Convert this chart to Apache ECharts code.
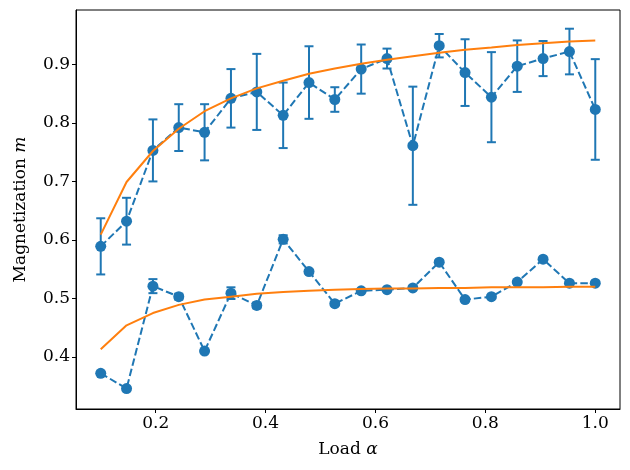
<!DOCTYPE html>
<html>
<head>
<meta charset="utf-8">
<script src="https://cdn.jsdelivr.net/npm/echarts@6/dist/echarts.min.js"></script>
<style>
  html, body { margin: 0; padding: 0; background: #fff; }
  #chart { width: 630px; height: 470px; }
</style>
</head>
<body>
<div id="chart"></div>
<script>
// Load values (x positions)
const loads = [0.1, 0.147, 0.195, 0.242, 0.289, 0.337, 0.384, 0.432, 0.479, 0.526,
               0.574, 0.621, 0.668, 0.716, 0.763, 0.811, 0.858, 0.905, 0.953, 1.0];

// Upper branch: measured magnetization and its error
const upperMean = [0.589, 0.632, 0.753, 0.792, 0.784, 0.842, 0.853, 0.813, 0.869, 0.840,
                   0.892, 0.910, 0.761, 0.932, 0.886, 0.844, 0.897, 0.910, 0.922, 0.823];
const upperErr = [0.048, 0.040, 0.053, 0.040, 0.048, 0.050, 0.065, 0.056, 0.062, 0.021,
                  0.042, 0.017, 0.101, 0.020, 0.057, 0.077, 0.044, 0.030, 0.039, 0.086];
const upperTheory = [0.609, 0.699, 0.752, 0.790, 0.820, 0.842, 0.859, 0.872, 0.884, 0.893,
                     0.901, 0.908, 0.914, 0.920, 0.925, 0.929, 0.933, 0.936, 0.939, 0.941];

// Lower branch
const lowerMean = [0.372, 0.346, 0.521, 0.503, 0.410, 0.509, 0.488, 0.601, 0.546, 0.491,
                   0.513, 0.515, 0.518, 0.562, 0.498, 0.503, 0.528, 0.567, 0.526, 0.526];
const lowerErr = [0.003, 0.003, 0.012, 0.005, 0.002, 0.010, 0.005, 0.007, 0.003, 0.003,
                  0.002, 0.002, 0.002, 0.003, 0.002, 0.002, 0.002, 0.002, 0.002, 0.002];
const lowerTheory = [0.413, 0.454, 0.475, 0.489, 0.498, 0.503, 0.508, 0.511, 0.513, 0.515,
                     0.516, 0.517, 0.517, 0.518, 0.518, 0.519, 0.519, 0.519, 0.520, 0.520];

const xTicks = [0.2, 0.4, 0.6, 0.8, 1.0];
const yTicks = [0.4, 0.5, 0.6, 0.7, 0.8, 0.9];

const BLUE = '#1f77b4';
const ORANGE = '#ff7f0e';
const FONT = 'DejaVu Serif';
const FS = 17;

const pairs = (ys) => loads.map((x, i) => [x, ys[i]]);
const triples = (ys, es) => loads.map((x, i) => [x, ys[i], es[i]]);

// Error bars: vertical line plus caps
function renderErrorBar(params, api) {
    const x = api.value(0);
    const y = api.value(1);
    const e = api.value(2);
    const top = api.coord([x, y + e]);
    const bot = api.coord([x, y - e]);
    const cap = 4.5;
    const style = { stroke: BLUE, lineWidth: 2 };
    return {
        type: 'group',
        children: [
            { type: 'line', shape: { x1: top[0], y1: top[1], x2: bot[0], y2: bot[1] }, style },
            { type: 'line', shape: { x1: top[0] - cap, y1: top[1], x2: top[0] + cap, y2: top[1] }, style },
            { type: 'line', shape: { x1: bot[0] - cap, y1: bot[1], x2: bot[0] + cap, y2: bot[1] }, style }
        ]
    };
}

const fmt = (v) => v.toFixed(1);
const nameRich = {
    n: { fontFamily: FONT, fontSize: FS, color: '#000' },
    i: { fontFamily: FONT, fontSize: FS, fontStyle: 'italic', color: '#000' }
};

const chart = echarts.init(document.getElementById('chart'));

const option = {
    animation: false,
    backgroundColor: '#fff',
    textStyle: { fontFamily: FONT },
    grid: {
        left: 76, right: 10, top: 10, bottom: 61,
        show: true, borderColor: '#000', borderWidth: 1
    },
    xAxis: {
        type: 'value',
        min: 0.055, max: 1.045,
        name: '{n|Load }{i|α}',
        nameLocation: 'middle',
        nameGap: 32,
        nameTextStyle: { rich: nameRich },
        axisLine: { show: true, lineStyle: { color: '#000', width: 1 } },
        axisTick: { show: true, inside: false, length: 4, customValues: xTicks, lineStyle: { color: '#000' } },
        axisLabel: { customValues: xTicks, formatter: fmt, color: '#000', fontSize: FS, fontFamily: FONT, margin: 6 },
        splitLine: { show: false }
    },
    yAxis: {
        type: 'value',
        min: 0.311, max: 0.993,
        name: '{n|Magnetization }{i|m}',
        nameLocation: 'middle',
        nameGap: 47,
        nameRotate: 90,
        nameTextStyle: { rich: nameRich },
        axisLine: { show: true, lineStyle: { color: '#000', width: 1 } },
        axisTick: { show: true, inside: false, length: 4, customValues: yTicks, lineStyle: { color: '#000' } },
        axisLabel: { customValues: yTicks, formatter: fmt, color: '#000', fontSize: FS, fontFamily: FONT, margin: 6 },
        splitLine: { show: false }
    },
    series: [
        {
            type: 'custom',
            renderItem: renderErrorBar,
            data: triples(upperMean, upperErr),
            z: 2
        },
        {
            type: 'custom',
            renderItem: renderErrorBar,
            data: triples(lowerMean, lowerErr),
            z: 2
        },
        {
            type: 'line',
            data: pairs(upperMean),
            symbol: 'circle',
            symbolSize: 11,
            itemStyle: { color: BLUE },
            lineStyle: { color: BLUE, width: 2, type: [7.5, 3.2] },
            z: 3
        },
        {
            type: 'line',
            data: pairs(lowerMean),
            symbol: 'circle',
            symbolSize: 11,
            itemStyle: { color: BLUE },
            lineStyle: { color: BLUE, width: 2, type: [7.5, 3.2] },
            z: 3
        },
        {
            type: 'line',
            data: pairs(upperTheory),
            showSymbol: false,
            lineStyle: { color: ORANGE, width: 2 },
            z: 4
        },
        {
            type: 'line',
            data: pairs(lowerTheory),
            showSymbol: false,
            lineStyle: { color: ORANGE, width: 2 },
            z: 4
        }
    ]
};

chart.setOption(option);
</script>
</body>
</html>
